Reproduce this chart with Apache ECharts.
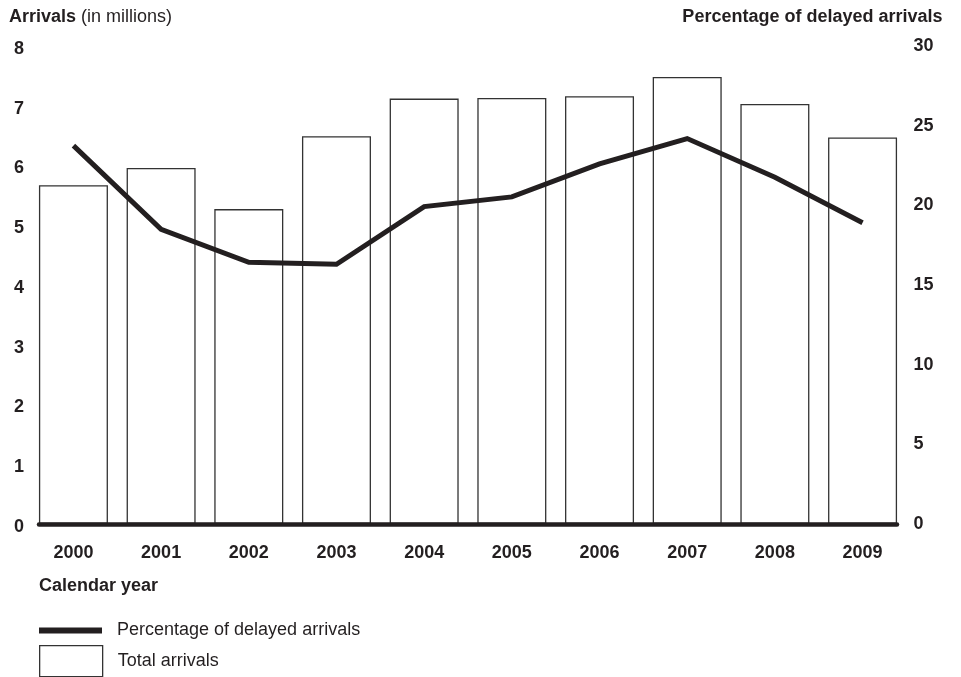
<!DOCTYPE html>
<html>
<head>
<meta charset="utf-8">
<script src="https://cdn.jsdelivr.net/npm/echarts@6/dist/echarts.min.js"></script>
<style>
html,body{margin:0;padding:0;background:#fff;}
#chart{width:961px;height:677px;}
</style>
</head>
<body>
<div id="chart"></div>
<script>
const years = ['2000','2001','2002','2003','2004','2005','2006','2007','2008','2009'];
const totalArrivals = [5.67, 5.96, 5.27, 6.49, 7.12, 7.13, 7.16, 7.48, 7.03, 6.47];
const delayedPct = [23.75, 18.50, 16.43, 16.30, 19.92, 20.53, 22.60, 24.19, 21.76, 18.91];
const arrivalsTicks = [0, 1, 2, 3, 4, 5, 6, 7, 8];
const pctTicks = [0, 5, 10, 15, 20, 25, 30];
const lineName = 'Percentage of delayed arrivals';
const barName = 'Total arrivals';

const FONT = "'Liberation Sans', Arial, Helvetica, sans-serif";
const INK = '#231f20';

const chart = echarts.init(document.getElementById('chart'), null, {renderer: 'canvas'});
const gridLeft = 29.6, gridRight = 54.6, gridTop = 46, gridBottom = 153;

chart.setOption({
  animation: false,
  backgroundColor: '#fff',
  textStyle: {fontFamily: FONT, color: INK},
  title: [
    {
      text: '{b|Arrivals} {n|(in millions)}',
      left: 9, top: 8, padding: 0,
      textStyle: {
        rich: {
          b: {fontFamily: FONT, fontSize: 18, fontWeight: 'bold', color: INK, lineHeight: 18},
          n: {fontFamily: FONT, fontSize: 18, fontWeight: 'normal', color: INK, lineHeight: 18}
        }
      }
    },
    {
      text: 'Percentage of delayed arrivals',
      right: 18.5, top: 8, padding: 0,
      textStyle: {fontFamily: FONT, fontSize: 18, fontWeight: 'bold', color: INK, lineHeight: 18}
    },
    {
      text: 'Calendar year',
      left: 39, top: 577, padding: 0,
      textStyle: {fontFamily: FONT, fontSize: 18, fontWeight: 'bold', color: INK, lineHeight: 18}
    }
  ],
  legend: [
    {
      data: [lineName],
      left: 39, top: 621.5, padding: 0,
      itemWidth: 63, itemHeight: 14,
      icon: 'path://M0,0 L63,0 L63,6 L0,6 Z',
      itemStyle: {color: INK, borderWidth: 0},
      textStyle: {fontFamily: FONT, fontSize: 18, color: INK, padding: [0, 0, 0, 10]}
    },
    {
      data: [barName],
      left: 39, top: 645, padding: 0,
      itemWidth: 63, itemHeight: 31,
      icon: 'rect',
      itemStyle: {color: '#fff', borderColor: '#333', borderWidth: 1.3},
      textStyle: {fontFamily: FONT, fontSize: 18, color: INK, padding: [0, 0, 0, 10]}
    }
  ],
  grid: [
    {left: gridLeft, right: gridRight, top: gridTop, bottom: gridBottom},
    {left: 39, right: 64, top: gridTop, bottom: gridBottom}
  ],
  xAxis: [
    {
      type: 'category', gridIndex: 0, data: years,
      boundaryGap: true,
      axisLine: {show: false}, axisTick: {show: false},
      axisLabel: {fontFamily: FONT, fontSize: 18, fontWeight: 'bold', color: INK, margin: 20}
    },
    {
      type: 'value', gridIndex: 1, min: 0, max: 1, z: 10,
      axisLine: {show: true, onZero: false, lineStyle: {color: INK, width: 4.5}},
      axisTick: {show: false}, axisLabel: {show: false}, splitLine: {show: false}
    }
  ],
  yAxis: [
    {
      type: 'value', gridIndex: 0,
      min: arrivalsTicks[0], max: arrivalsTicks[arrivalsTicks.length - 1],
      interval: arrivalsTicks[1] - arrivalsTicks[0],
      axisLine: {show: false}, axisTick: {show: false}, splitLine: {show: false},
      axisLabel: {
        margin: 5.6,
        formatter: function (v) { return '{a|' + v + '}'; },
        rich: {a: {fontFamily: FONT, fontSize: 18, fontWeight: 'bold', color: INK, padding: [6, 0, 0, 0]}}
      }
    },
    {
      type: 'value', gridIndex: 0, position: 'right',
      min: pctTicks[0], max: pctTicks[pctTicks.length - 1],
      interval: pctTicks[1] - pctTicks[0],
      axisLine: {show: false}, axisTick: {show: false}, splitLine: {show: false},
      axisLabel: {fontFamily: FONT, fontSize: 18, fontWeight: 'bold', color: INK, margin: 7.2}
    },
    {
      type: 'value', gridIndex: 1, show: false, min: 0, max: 1
    }
  ],
  series: [
    {
      name: barName, type: 'bar', xAxisIndex: 0, yAxisIndex: 0,
      data: totalArrivals, barWidth: 69,
      itemStyle: {color: '#fff', borderColor: '#333', borderWidth: 1.3},
      z: 2
    },
    {
      name: lineName, type: 'line', xAxisIndex: 0, yAxisIndex: 1,
      data: delayedPct, symbol: 'none',
      lineStyle: {color: INK, width: 5, join: 'miter'},
      itemStyle: {color: INK},
      z: 3
    }
  ]
});
</script>
</body>
</html>
